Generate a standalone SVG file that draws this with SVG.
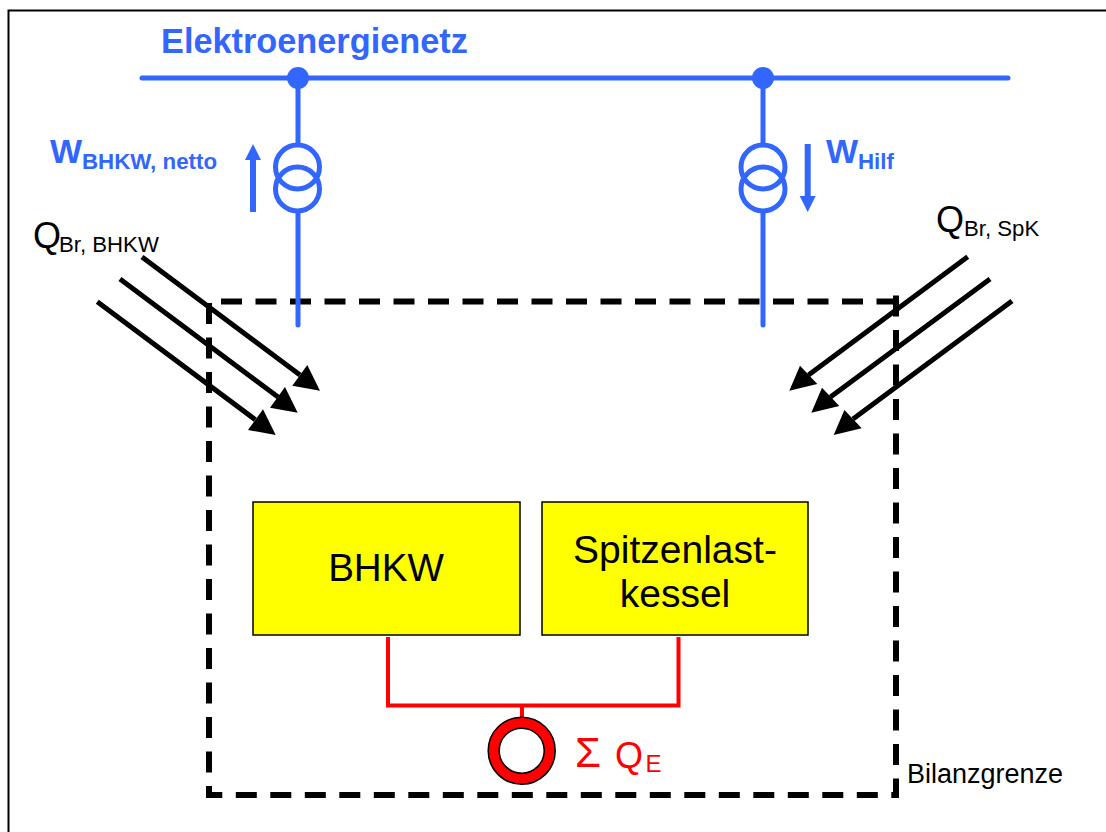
<svg xmlns="http://www.w3.org/2000/svg" width="1106" height="832" viewBox="0 0 1106 832">
<style>
text{font-family:"Liberation Sans",Arial,sans-serif}
.b{fill:#3366ff;font-weight:bold}
.bl{stroke:#3366ff;stroke-width:5;fill:none;stroke-linecap:round}
.box{fill:#ffff00;stroke:#000;stroke-width:1.5}
.d{stroke:#000;stroke-width:6;stroke-dasharray:21 13.5;fill:none}
.ar{stroke:#000;stroke-width:5;fill:none}
.red{stroke:#ff0000;stroke-width:4;fill:none}
.r{fill:#ff0000}
</style>
<rect width="1106" height="832" fill="#fff"/>
<path d="M8.500 832V10.500H1106" fill="none" stroke="#000" stroke-width="2"/>
<g id="boundary">
<line class="d" x1="221" y1="301.500" x2="898" y2="301.500"/>
<line class="d" x1="209" y1="303" x2="209" y2="798"/>
<line class="d" x1="896" y1="295.500" x2="896" y2="798"/>
<line class="d" x1="206" y1="795" x2="898" y2="795" stroke-dashoffset="4.700"/>
</g>
<g id="connectors">
<path class="bl" d="M142 78H1008M298 78V143M298 213V325M763 78V143M763 213V325"/>
<circle cx="298" cy="78" r="11" fill="#3366ff"/>
<circle cx="763" cy="78" r="11" fill="#3366ff"/>
<path class="bl" d="M253 212V158" style="stroke-width:6;stroke-linecap:butt"/>
<polygon points="253,144 261,160 245,160" fill="#3366ff"/>
<path class="bl" d="M807.700 144V198" style="stroke-width:6;stroke-linecap:butt"/>
<polygon points="807.700,212 815.700,196 799.700,196" fill="#3366ff"/>
<path class="ar" d="M142 257L300 375M120 279L278 397M97.300 301.700L255.300 419.700M967.700 256.700L808.500 375M990 279L830.500 397M1012 301L853 419"/>
<polygon points="320,390.700 307.300,365 292.300,385.700"/>
<polygon points="297.700,412.700 285,387 270,407.700"/>
<polygon points="275.700,435 263,409.300 248,430"/>
<polygon points="789.300,390.700 800,365.700 817.300,384"/>
<polygon points="811.300,412.700 822,387.700 839.300,406"/>
<polygon points="833.700,435 844.400,410 861.700,428.300"/>
<path class="red" d="M388 637V705.500H678.500V637M522 705.500V718"/>
</g>
<g id="transformer-left"><circle class="bl" cx="297.500" cy="167" r="22"/><circle class="bl" cx="297.500" cy="189" r="22"/></g>
<g id="transformer-right"><circle class="bl" cx="763" cy="167" r="22"/><circle class="bl" cx="763" cy="189" r="22"/></g>
<g id="bhkw"><rect class="box" x="253" y="502" width="267" height="133"/>
<text x="386" y="581" font-size="38.600" text-anchor="middle">BHKW</text></g>
<g id="spitzenlast"><rect class="box" x="542" y="502" width="266" height="133"/>
<text x="675" y="562.500" font-size="39" text-anchor="middle">Spitzenlast-</text>
<text x="675" y="607" font-size="39" text-anchor="middle">kessel</text></g>
<g id="ring"><circle cx="521.700" cy="750.700" r="33.500" fill="#ff0000" stroke="#000" stroke-width="1.500"/>
<circle cx="521.700" cy="750.700" r="22.500" fill="#fff" stroke="#000" stroke-width="1.500"/></g>
<g id="labels">
<text class="b" x="161" y="53" font-size="34.300">Elektroenergienetz</text>
<text class="b" x="50" y="163" font-size="34">W</text><text class="b" x="82" y="169" font-size="22.300">BHKW, netto</text>
<text class="b" x="826" y="163" font-size="34">W</text><text class="b" x="858" y="169" font-size="22.300">Hilf</text>
<text x="33" y="247.500" font-size="36">Q</text><text x="59" y="252" font-size="22.200">Br, BHKW</text>
<text x="936" y="231.500" font-size="36">Q</text><text x="964" y="236" font-size="22.200">Br, SpK</text>
<text class="r" x="575" y="767" font-size="42" font-family="Liberation Serif">Σ</text>
<text class="r" x="615" y="768" font-size="36">Q</text><text class="r" x="645.500" y="772" font-size="24">E</text>
<text x="907" y="783" font-size="27">Bilanzgrenze</text>
</g>
</svg>
